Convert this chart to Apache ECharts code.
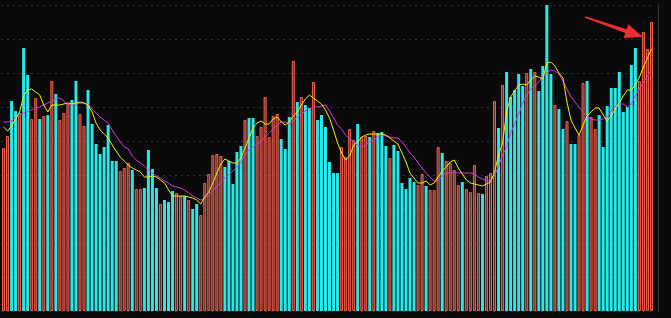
<!DOCTYPE html>
<html><head><meta charset="utf-8">
<script src="https://cdn.jsdelivr.net/npm/echarts@6/dist/echarts.min.js"></script>
<style>html,body{margin:0;padding:0;background:#0a0a0a;overflow:hidden}#c{width:671px;height:318px}</style>
</head><body><div id="c"></div>
<script>
// Daily volume (units: chart scale, one grid step = 34)
const volumes = [163,175,210,200,198,263,236,192,213,192,
 195,196,230,217,191,198,207,211,230,197,
 185,221,187,167,157,164,186,150,150,140,
 143,148,141,122,122,123,161,142,123,107,
 111,109,120,118,115,115,111,102,107,96,
 128,137,156,157,155,144,150,127,159,165,
 191,193,193,175,184,214,174,195,197,172,
 162,194,250,209,214,206,203,229,191,196,
 184,149,138,138,164,154,182,171,187,174,
 175,174,180,178,179,165,153,166,160,128,
 122,133,129,126,137,125,121,121,164,158,
 150,148,141,126,129,122,119,146,118,117,
 135,138,210,183,226,239,214,221,237,225,
 238,242,239,220,245,306,237,206,202,182,
 190,167,167,176,228,230,194,182,196,164,
 205,223,223,239,199,204,246,263,230,279,
 262,289];
// 1 = up day (red hollow bar), 0 = down day (cyan bar)
const upDay = [1,1,0,0,1,0,0,1,1,0,
 1,0,1,0,1,1,1,0,0,1,
 1,0,0,0,0,0,0,0,0,1,
 1,1,0,1,1,0,0,0,0,1,
 0,0,0,1,1,0,1,0,0,1,
 1,1,1,1,1,0,0,0,0,0,
 1,0,0,1,1,1,1,1,1,0,
 0,0,1,0,1,0,0,1,0,0,
 0,0,0,0,1,1,1,1,0,1,
 1,0,1,0,0,0,1,0,0,0,
 0,0,0,1,1,0,1,1,1,0,
 1,1,1,1,0,1,1,1,1,0,
 1,1,1,0,1,0,0,0,0,0,
 1,0,1,0,0,0,0,1,0,0,
 1,0,0,1,1,0,1,1,0,0,
 0,0,0,0,0,0,0,0,1,1,
 1,1];
// Moving averages
const ma5 = [184,180,185,192,199,215,221,222,219,216,
 206,199,206,206,206,207,208,207,208,209,
 208,206,199,188,181,177,173,166,160,154,
 150,146,143,141,139,134,134,135,134,131,
 128,121,115,115,115,115,114,113,111,107,
 114,119,128,138,147,152,150,148,148,153,
 163,173,183,188,190,187,187,192,194,189,
 186,189,195,199,206,212,216,213,210,207,
 201,193,181,168,158,151,155,166,169,174,
 176,177,177,177,177,176,173,170,167,158,
 149,138,133,128,128,130,126,128,134,140,
 144,149,151,143,137,131,128,127,126,125,
 127,129,139,156,168,199,214,220,226,227,
 226,231,235,234,232,248,249,245,238,233,
 209,191,183,176,186,195,199,203,203,196,
 190,195,202,208,215,221,221,226,234,244,
 253,262];
const ma10 = [189,189,190,193,196,198,200,201,203,204,
 206,208,210,212,213,210,206,206,207,208,
 208,207,202,198,194,191,188,181,175,169,
 164,162,155,151,148,145,141,138,135,133,
 130,128,125,124,123,121,118,115,113,111,
 113,116,120,125,129,133,136,140,144,149,
 156,161,164,167,170,174,178,182,186,189,
 189,187,190,194,197,200,202,204,204,205,
 206,200,193,186,182,176,172,169,166,164,
 166,169,171,174,176,175,174,173,173,169,
 164,158,154,148,143,138,134,130,130,135,
 138,138,139,138,138,138,138,137,134,132,
 130,131,135,145,156,164,178,187,197,208,
 216,222,225,229,235,238,241,240,237,230,
 222,214,209,204,199,195,192,191,191,192,
 194,200,205,207,207,204,207,215,222,229,
 235,241];
const categories = volumes.map((_, i) => 'D' + (i + 1));

const UP = '#f4604f', DOWN = '#2ae8e8';
const barData = volumes.map((v, i) => ({
  value: v,
  itemStyle: upDay[i]
    ? { color: 'rgba(226,88,74,0.42)', borderColor: UP, borderWidth: 1 }
    : { color: DOWN, borderWidth: 0 }
}));

const chart = echarts.init(document.getElementById('c'), null, { renderer: 'canvas' });
chart.setOption({
  animation: false,
  backgroundColor: '#0a0a0a',
  grid: { left: 1.5, right: 17.5, top: 5, bottom: 7, containLabel: false },
  xAxis: {
    type: 'category', data: categories, boundaryGap: true,
    axisLine: { show: false }, axisTick: { show: false }, axisLabel: { show: false },
    splitLine: { show: false }
  },
  yAxis: {
    type: 'value', position: 'right', offset: 4.5, min: 0, max: 306, interval: 34,
    axisLine: { show: true, lineStyle: { color: '#3c3c3c', width: 1 } },
    axisTick: { show: false }, axisLabel: { show: false },
    splitLine: { show: true, lineStyle: { color: '#5e5e5e', width: 1, type: [1, 5] } }
  },
  series: [
    { name: 'VOL', type: 'bar', data: barData, barWidth: 3, z: 2, silent: true },
    { name: 'MA5', type: 'line', data: ma5, showSymbol: false, symbol: 'none', z: 4,
      lineStyle: { color: '#f2f200', width: 1 }, silent: true },
    { name: 'MA10', type: 'line', data: ma10, showSymbol: false, symbol: 'none', z: 3,
      lineStyle: { color: '#dd35dd', width: 1 }, silent: true }
  ],
  graphic: [{
    type: 'polygon', z: 100, silent: true,
    shape: { points: [[585.2,16.3],[626.7,29.2],[628.3,24.3],[643,37],[623.7,37.9],[625.3,33.0],[584.8,17.7]] },
    style: { fill: '#ee2d2d' }
  }]
});
</script></body></html>
